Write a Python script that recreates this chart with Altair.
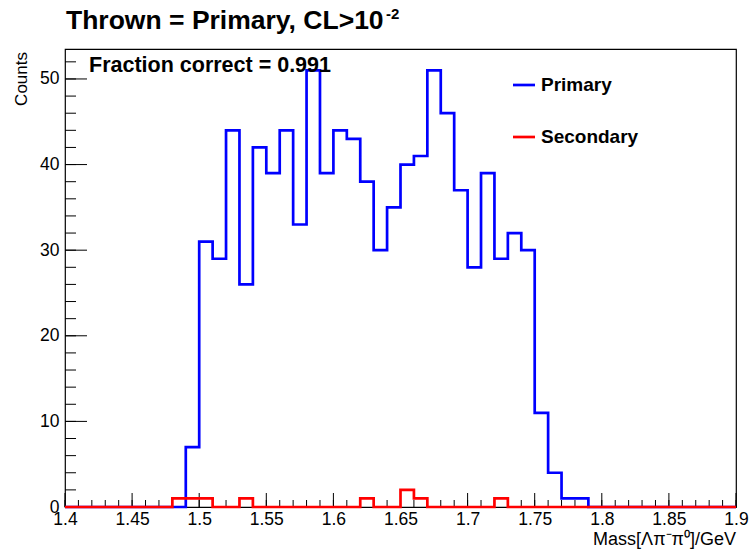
import altair as alt
import pandas as pd

# Histogram binning: 50 bins of width 0.01 GeV from 1.40 to 1.90
bin_low = [round(1.40 + 0.01 * i, 2) for i in range(50)]
x_max = 1.90

primary = [0] * 9 + [
    7, 31, 29, 44, 26, 42, 39, 44, 33, 51,
    39, 44, 43, 38, 30, 35, 40, 41, 51, 46,
    37, 28, 39, 29, 32, 30, 11, 4, 1, 1,
] + [0] * 11

secondary = [0] * 50
for idx, val in [(8, 1), (9, 1), (10, 1), (13, 1), (22, 1), (25, 2), (26, 1), (32, 1)]:
    secondary[idx] = val

series_names = ["Primary", "Secondary"]
series_colors = ["#0000ff", "#ff0000"]

x_major = [1.4, 1.45, 1.5, 1.55, 1.6, 1.65, 1.7, 1.75, 1.8, 1.85, 1.9]
x_minor = [round(1.40 + 0.01 * i, 2) for i in range(51)]
y_major = [0, 10, 20, 30, 40, 50]
y_minor = list(range(0, 54, 2))
y_top = 53.5

W, H = 671, 458
FONT = "Liberation Sans"


def step_frame(counts, name):
    xs = bin_low + [x_max]
    ys = counts + [counts[-1]]
    return pd.DataFrame({"mass": xs, "counts": ys, "series": name})


x_scale = alt.Scale(domain=[1.4, 1.9], nice=False, zero=False)
y_scale = alt.Scale(domain=[0, y_top], nice=False)

x_axis = alt.Axis(values=x_major, format="~g", ticks=False, domain=False, grid=False,
                  labelFont=FONT, labelFontSize=17.5, labelColor="black",
                  labelPadding=3, labelFlush=False, labelOverlap=False, title=None)
y_axis = alt.Axis(values=y_major, format="d", ticks=False, domain=False, grid=False,
                  labelFont=FONT, labelFontSize=17.5, labelColor="black",
                  labelPadding=6, labelOverlap=False, title=None)

lines = []
for name, counts, color in zip(series_names, [primary, secondary], series_colors):
    lines.append(
        alt.Chart(step_frame(counts, name)).mark_line(
            interpolate="step-after", color=color, strokeWidth=2.7, clip=False
        ).encode(
            x=alt.X("mass:Q", scale=x_scale, axis=x_axis),
            y=alt.Y("counts:Q", scale=y_scale, axis=y_axis),
        )
    )

# Inward-pointing tick marks on the bottom and left axes
maj_x = pd.DataFrame({"v": x_major})
min_x = pd.DataFrame({"v": x_minor})
maj_y = pd.DataFrame({"v": y_major})
min_y = pd.DataFrame({"v": y_minor})

ticks = [
    alt.Chart(min_x).mark_rule(color="black", strokeWidth=1).encode(
        x=alt.X("v:Q", scale=x_scale, axis=x_axis), y=alt.value(H), y2=alt.value(H - 7)),
    alt.Chart(maj_x).mark_rule(color="black", strokeWidth=1).encode(
        x=alt.X("v:Q", scale=x_scale, axis=x_axis), y=alt.value(H), y2=alt.value(H - 14)),
    alt.Chart(min_y).mark_rule(color="black", strokeWidth=1).encode(
        y=alt.Y("v:Q", scale=y_scale, axis=y_axis), x=alt.value(0), x2=alt.value(11)),
    alt.Chart(maj_y).mark_rule(color="black", strokeWidth=1).encode(
        y=alt.Y("v:Q", scale=y_scale, axis=y_axis), x=alt.value(0), x2=alt.value(22)),
]


def label(text, x, y, size, bold=False, align="left", angle=0):
    props = dict(font=FONT, fontSize=size, color="black", align=align,
                 baseline="alphabetic", fontWeight="bold" if bold else "normal")
    if angle:
        props["angle"] = angle
    return alt.Chart(pd.DataFrame({"t": [text]})).mark_text(**props).encode(
        text="t:N", x=alt.value(x), y=alt.value(y))


texts = [
    label("Thrown = Primary, CL>10", 1, -20, 26.5, bold=True),
    label("-2", 321, -30, 15, bold=True),
    label("Fraction correct = 0.991", 24, 23, 21.5, bold=True),
    label("Counts", -38, 3, 17, align="right", angle=270),
    label("Mass[Λπ⁻π⁰]/GeV", W, 496, 18, align="right"),
]

# Legend entries
legend_df = pd.DataFrame({"name": series_names, "color": series_colors, "ypos": [36, 88]})
legend_lines = alt.Chart(legend_df).mark_rule(strokeWidth=2.7).encode(
    x=alt.value(448), x2=alt.value(470),
    y=alt.Y("ypos:Q", scale=None),
    color=alt.Color("color:N", scale=None),
)
legend_text = alt.Chart(legend_df).mark_text(
    font=FONT, fontSize=19, fontWeight="bold", align="left", baseline="middle", color="black"
).encode(
    x=alt.value(476), y=alt.Y("ypos:Q", scale=None), text="name:N"
)

chart = alt.layer(*ticks, *lines, *texts, legend_lines, legend_text).properties(
    width=W, height=H,
    padding={"left": 65, "top": 49, "right": 14, "bottom": 44},
    autosize="none",
    background="white",
).configure_view(stroke="black", strokeWidth=1.2)

chart.save("out.html", embed_options={"renderer": "svg", "actions": False})
